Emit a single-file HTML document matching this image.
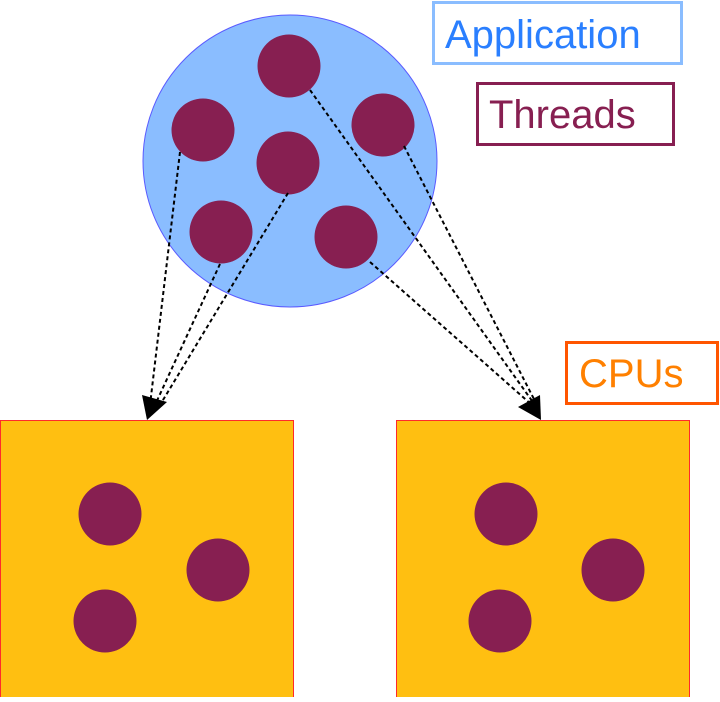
<!DOCTYPE html>
<html><head><style>body{margin:0;background:#fff}</style></head><body>
<svg width="720" height="697" xmlns="http://www.w3.org/2000/svg" font-family="Liberation Sans, sans-serif">
<rect x="0.5" y="420.5" width="293" height="277" fill="#ffbf11" stroke="#ff2a2a" stroke-width="1"/>
<rect x="396.5" y="420.5" width="293" height="277" fill="#ffbf11" stroke="#ff2a2a" stroke-width="1"/>
<ellipse cx="290" cy="161" rx="147" ry="146" fill="#8abdff" stroke="#5a5aff" stroke-width="1"/>
<g fill="#871f51">
<circle cx="289" cy="66" r="31.5"/><circle cx="203" cy="130" r="31.5"/><circle cx="383" cy="125" r="31.5"/>
<circle cx="288" cy="163" r="31.5"/><circle cx="221" cy="232" r="31.5"/><circle cx="346" cy="237" r="31.5"/>
<circle cx="110" cy="514" r="31.5"/><circle cx="218" cy="570" r="31.5"/><circle cx="105" cy="621" r="31.5"/>
<circle cx="506" cy="514" r="31.5"/><circle cx="613" cy="570" r="31.5"/><circle cx="500" cy="621" r="31.5"/>
</g>
<g stroke="#000" stroke-width="2" stroke-dasharray="4,3" fill="none">
<path d="M180 152 L150 405"/><path d="M220 264 L155 405"/><path d="M288 193 L160 405"/>
<path d="M310 90 L535 405"/><path d="M404 146 L537 405"/><path d="M370 262 L532 405"/>
</g>
<polygon points="147,420 142,395 167,402" fill="#000"/>
<polygon points="541,420 518,407 540,395" fill="#000"/>
<rect x="433.5" y="2.5" width="248" height="61" fill="#fff" stroke="#8abdff" stroke-width="3"/>
<text x="445" y="48" font-size="40" fill="#2a7fff">Application</text>
<rect x="477.5" y="83.5" width="196" height="61" fill="#fff" stroke="#871f51" stroke-width="3"/>
<text x="489" y="128" font-size="40" fill="#871f51">Threads</text>
<rect x="566.5" y="342.5" width="151" height="61" fill="#fff" stroke="#ff5500" stroke-width="3"/>
<text x="579" y="387" font-size="40" fill="#ff8000">CPUs</text>
</svg>
</body></html>
